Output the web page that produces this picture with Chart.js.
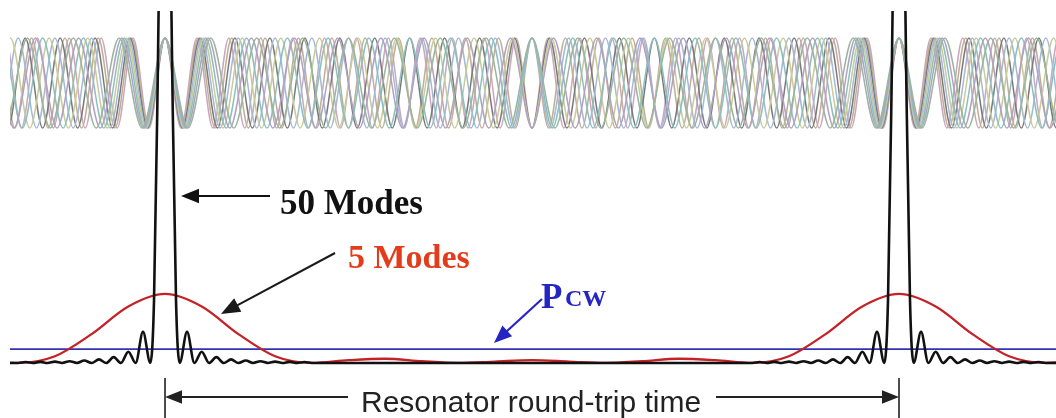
<!DOCTYPE html>
<html>
<head>
<meta charset="utf-8">
<script src="https://cdn.jsdelivr.net/npm/chart.js@4.4.1/dist/chart.umd.min.js"></script>
<style>
body{margin:0;background:#fff}
#wrap{position:relative;width:1056px;height:418px}
#wrap canvas{display:block}
.lbl{position:absolute;white-space:nowrap;line-height:1}
</style>
</head>
<body>
<div id="wrap">
  <canvas id="build-graph" width="1056" height="418"></canvas>
  <div class="lbl" style="left:280px;top:183px;font:bold 35px 'Liberation Serif',serif;color:#111">50 Modes</div>
  <div class="lbl" style="left:348px;top:238px;font:bold 34px 'Liberation Serif',serif;color:#e23c1c">5 Modes</div>
  <div class="lbl" style="left:541px;top:277px;font:bold 35px 'Liberation Serif',serif;color:#2525c4">P</div>
  <div class="lbl" style="left:565px;top:285px;font:bold 24px 'Liberation Serif',serif;color:#2525c4">CW</div>
  <div class="lbl" style="left:361px;top:385px;font:30px 'Liberation Sans',Arial,sans-serif;color:#222">Resonator round-trip time</div>
</div>
<script>
// time axis in units of one resonator round trip, pulses at 0 and 1
const pulseCenters = [0, 1];

// cycles per round trip of each longitudinal mode (top panel)
const modeCycles = [16, 17, 18, 19, 20, 21, 22, 23];

// 5 modes: power / average power over one round trip
const redOffsets = [-0.5, -0.45, -0.4, -0.35, -0.3, -0.25, -0.2, -0.15, -0.1, -0.05, 0,
                    0.05, 0.1, 0.15, 0.2, 0.25, 0.3, 0.35, 0.4, 0.45, 0.5];
const redPower   = [0.2, 0.1025, 0, 0.126, 0.306, 0.2, 0, 0.485, 2.09, 4.09, 5,
                    4.09, 2.09, 0.485, 0, 0.2, 0.306, 0.126, 0, 0.1025, 0.2];

// 50 modes: power / average power near a pulse
const blackOffsets = [-0.5, -0.2, -0.19, -0.18, -0.17, -0.16, -0.15, -0.14, -0.13, -0.12, -0.11,
                      -0.1, -0.09, -0.08, -0.07, -0.06, -0.05, -0.04, -0.03, -0.02, -0.015, -0.01, -0.005, 0,
                      0.005, 0.01, 0.015, 0.02, 0.03, 0.04, 0.05, 0.06, 0.07, 0.08, 0.09, 0.1,
                      0.11, 0.12, 0.13, 0.14, 0.15, 0.16, 0.17, 0.18, 0.19, 0.2, 0.5];
const blackPower   = [0, 0, 0.064, 0, 0.077, 0, 0.097, 0, 0.126, 0, 0.174,
                      0, 0.257, 0, 0.42, 0, 0.817, 0, 2.26, 0, 4.5, 20.3, 40.5, 50,
                      40.5, 20.3, 4.5, 0, 2.26, 0, 0.817, 0, 0.42, 0, 0.257, 0,
                      0.174, 0, 0.126, 0, 0.097, 0, 0.077, 0, 0.064, 0, 0];

// continuous-wave power level
const cwLevel = 1;

const modeColors = ['#9bb59f', '#b0a2c0', '#8cc0bf', '#c8cb9a', '#a5b8d6', '#7a7a7a', '#c0ae96', '#c9a8bc'];
const tMin = -0.2112, tMax = 1.2139;

function pulseTrain(offsets, values){
    let pts = [];
    pulseCenters.forEach(function(c, i){
        offsets.forEach(function(o, j){
            if (i > 0 && o === offsets[0]) return;
            pts.push({x: c + o, y: values[j]});
        });
    });
    return pts;
}

function modePeaks(n){
    let half = 1 / (2 * n);
    let pts = [];
    for (let k = Math.floor(tMin / half) - 1; k <= Math.ceil(tMax / half) + 1; k++){
        pts.push({x: k * half, y: (k % 2 === 0) ? 1 : -1});
    }
    return pts;
}

let datasets = [
    {data: pulseTrain(blackOffsets, blackPower), borderColor: '#111', borderWidth: 2.6, yAxisID: 'y'},
    {data: pulseTrain(redOffsets, redPower), borderColor: '#c42226', borderWidth: 2.3, yAxisID: 'y'},
    {data: [{x: tMin, y: cwLevel}, {x: tMax, y: cwLevel}], borderColor: '#3333b0', borderWidth: 1.7, yAxisID: 'y'}
];
modeCycles.forEach(function(n, i){
    datasets.push({data: modePeaks(n), borderColor: modeColors[i], borderWidth: 1.5, yAxisID: 'yw'});
});
datasets.forEach(function(d){
    d.pointRadius = 0;
    d.fill = false;
    d.cubicInterpolationMode = 'monotone';
});

function arrow(ctx, x1, y1, x2, y2, color, width, head){
    let a = Math.atan2(y2 - y1, x2 - x1);
    ctx.save();
    ctx.strokeStyle = color;
    ctx.fillStyle = color;
    ctx.lineWidth = width;
    ctx.beginPath();
    ctx.moveTo(x1, y1);
    ctx.lineTo(x2 - Math.cos(a) * head * 0.8, y2 - Math.sin(a) * head * 0.8);
    ctx.stroke();
    ctx.beginPath();
    ctx.moveTo(x2, y2);
    ctx.lineTo(x2 - head * Math.cos(a) + head * 0.4 * Math.sin(a), y2 - head * Math.sin(a) - head * 0.4 * Math.cos(a));
    ctx.lineTo(x2 - head * Math.cos(a) - head * 0.4 * Math.sin(a), y2 - head * Math.sin(a) + head * 0.4 * Math.cos(a));
    ctx.closePath();
    ctx.fill();
    ctx.restore();
}

const notes = {
    id: 'notes',
    afterDraw(chart){
        let ctx = chart.ctx;
        let xs = chart.scales.x;
        let p0 = xs.getPixelForValue(pulseCenters[0]);
        let p1 = xs.getPixelForValue(pulseCenters[1]);
        arrow(ctx, 270, 196, 181, 196, '#111', 2.2, 18);
        arrow(ctx, 335, 253, 221, 314, '#1a1a1a', 2, 19);
        arrow(ctx, 542, 299, 494, 343, '#2525c4', 2.2, 18);
        arrow(ctx, 348, 397, p0, 397, '#222', 1.8, 17);
        arrow(ctx, 716, 397, p1, 397, '#222', 1.8, 17);
        ctx.save();
        ctx.strokeStyle = '#222';
        ctx.lineWidth = 1.6;
        ctx.beginPath();
        ctx.moveTo(p0, 378); ctx.lineTo(p0, 418);
        ctx.moveTo(p1, 378); ctx.lineTo(p1, 418);
        ctx.stroke();
        ctx.restore();
    }
};

let chartGraph = new Chart(document.getElementById('build-graph'), {
    type: 'line',
    data: {datasets: datasets},
    options: {
        responsive: false,
        animation: false,
        devicePixelRatio: 1,
        layout: {padding: {left: 10, top: 11, right: 0, bottom: 0}},
        scales: {
            x: {type: 'linear', min: tMin, max: tMax, display: false},
            y: {min: -3.99, max: 25.51, display: false},
            yw: {min: -7.444, max: 1.6, display: false}
        },
        plugins: {legend: {display: false}, tooltip: {enabled: false}}
    },
    plugins: [notes]
});
</script>
</body>
</html>
